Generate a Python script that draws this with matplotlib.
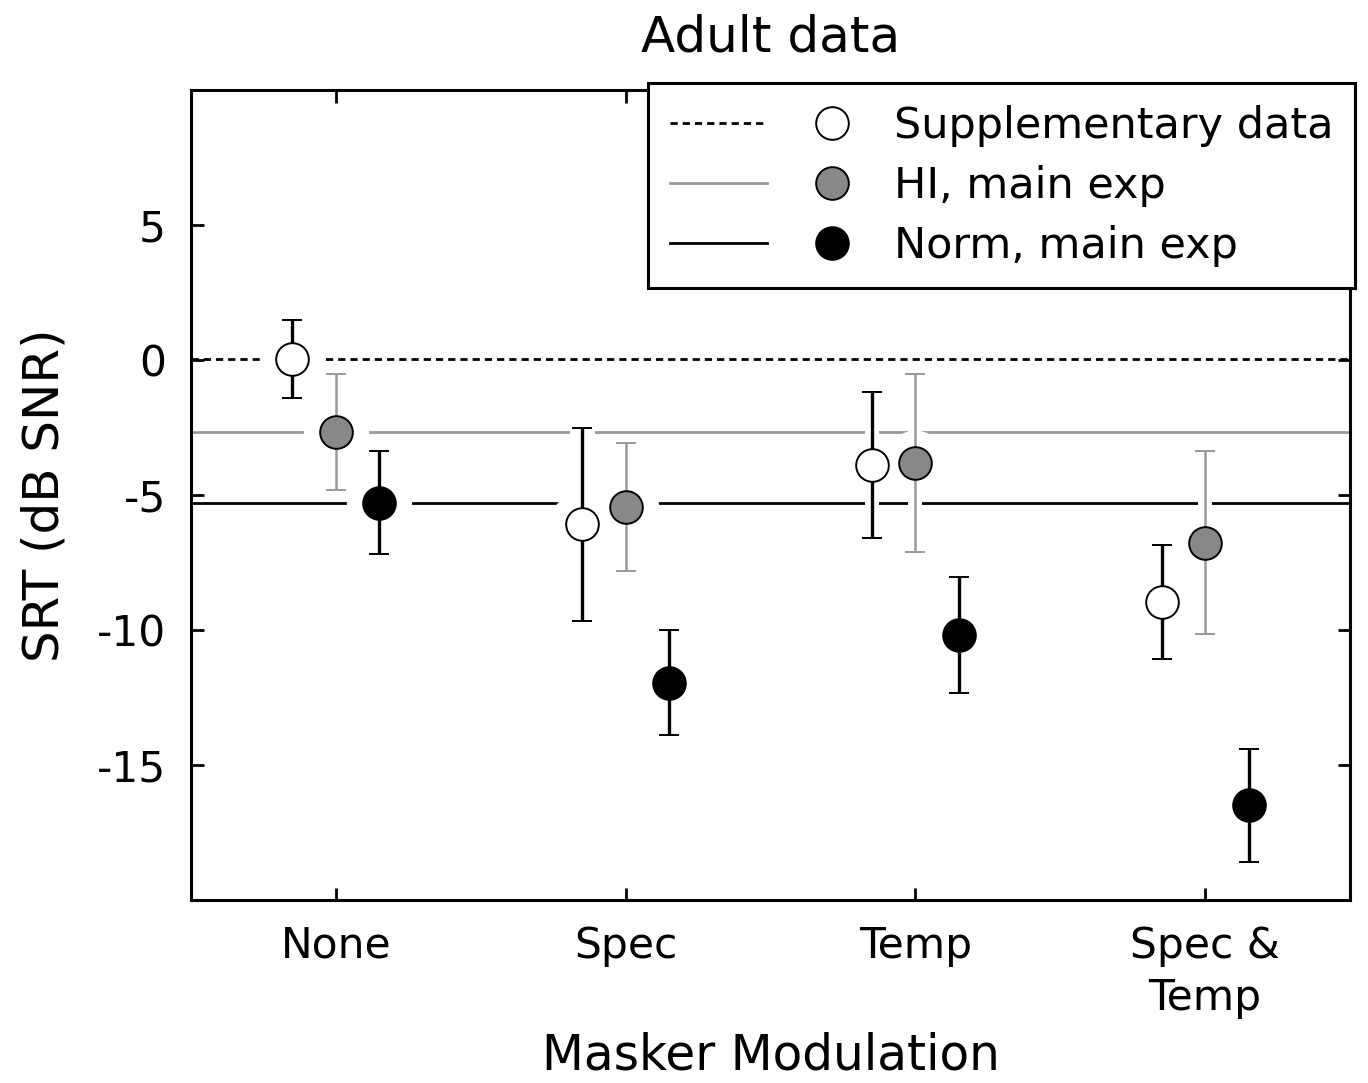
import matplotlib
matplotlib.use("Agg")
import matplotlib.pyplot as plt
from matplotlib.lines import Line2D
from matplotlib.legend_handler import HandlerTuple
import numpy as np

plt.rcParams['font.family'] = ['DejaVu Sans']

categories = ["None", "Spec", "Temp", "Spec &\nTemp"]

supp_mean = [0.05, -6.08, -3.9, -8.96]
supp_err = [1.45, 3.58, 2.7, 2.1]

hi_mean = [-2.66, -5.44, -3.81, -6.76]
hi_err = [2.14, 2.37, 3.29, 3.39]

norm_mean = [-5.28, -11.95, -10.18, -16.5]
norm_err = [1.92, 1.95, 2.15, 2.1]

series_labels = ["Supplementary data", "HI, main exp", "Norm, main exp"]

GRAY_LINE = '#999999'
GRAY_FILL = '#888888'

fig = plt.figure(figsize=(13.68, 10.83), dpi=100)
ax = fig.add_axes([0.1396, 0.169, 0.8472, 0.7478])

x = np.arange(1, len(categories) + 1)
offset = 0.15

# reference lines (values of the "None" condition)
ax.axhline(supp_mean[0], color='black', lw=2.0, ls=(0, (2.6, 1.8)), zorder=1)
ax.axhline(hi_mean[0], color=GRAY_LINE, lw=2.0, zorder=1)
ax.axhline(norm_mean[0], color='black', lw=2.0, zorder=1)

specs = [
    (x - offset, supp_mean, supp_err, 'white', 'black', 2.4, 4.5),
    (x, hi_mean, hi_err, GRAY_FILL, GRAY_LINE, 1.8, 2.0),
    (x + offset, norm_mean, norm_err, 'black', 'black', 2.4, 4.5),
]

# white halos that break the reference lines
for xs, m, e, fc, ec, elw, cth in specs:
    ax.errorbar(xs, m, yerr=e, fmt='o', ms=46, mfc='white', mec='white',
                ecolor='white', elinewidth=10, capsize=9, capthick=10, zorder=1.5)

for xs, m, e, fc, ec, elw, cth in specs:
    ax.errorbar(xs, m, yerr=e, fmt='o', ms=23.5, mfc=fc, mec='black', mew=1.4,
                ecolor=ec, elinewidth=elw, capsize=7.5, capthick=cth, zorder=3)

ax.set_xlim(0.5, 4.5)
ax.set_ylim(-20, 10)
ax.set_xticks(x)
ax.set_xticklabels(categories, fontsize=30.5, linespacing=1.3)
ax.set_yticks([5, 0, -5, -10, -15])
ax.set_yticklabels(['5', '0', '-5', '-10', '-15'], fontsize=30.5)
ax.tick_params(direction='in', length=9, width=2, top=True, right=True, pad=18)
for s in ax.spines.values():
    s.set_linewidth(2.2)

ax.set_xlabel("Masker Modulation", fontsize=35, labelpad=9)
ax.set_ylabel("SRT (dB SNR)", fontsize=36, labelpad=20)
ax.set_title("Adult data", fontsize=36, pad=28)

# legend
h_supp = (Line2D([], [], color='black', lw=2.0, ls=(0, (2.6, 1.8))),
          Line2D([], [], marker='o', ls='none', ms=23.5, mfc='white', mec='black', mew=1.4))
h_hi = (Line2D([], [], color=GRAY_LINE, lw=2.0),
        Line2D([], [], marker='o', ls='none', ms=23.5, mfc=GRAY_FILL, mec='black', mew=1.4))
h_norm = (Line2D([], [], color='black', lw=2.0),
          Line2D([], [], marker='o', ls='none', ms=23.5, mfc='black', mec='black', mew=1.4))
leg = ax.legend([h_supp, h_hi, h_norm], series_labels,
                handler_map={tuple: HandlerTuple(ndivide=2, pad=0.38)},
                loc='upper right', bbox_to_anchor=(1.0043, 1.0086), borderaxespad=0,
                fontsize=31, handlelength=4.9, handletextpad=0.3, labelspacing=0.42,
                borderpad=0.5, fancybox=False, framealpha=1, edgecolor='black')
leg.get_frame().set_linewidth(2.2)
leg.set_zorder(5)

fig.savefig("out.png", dpi=100)
